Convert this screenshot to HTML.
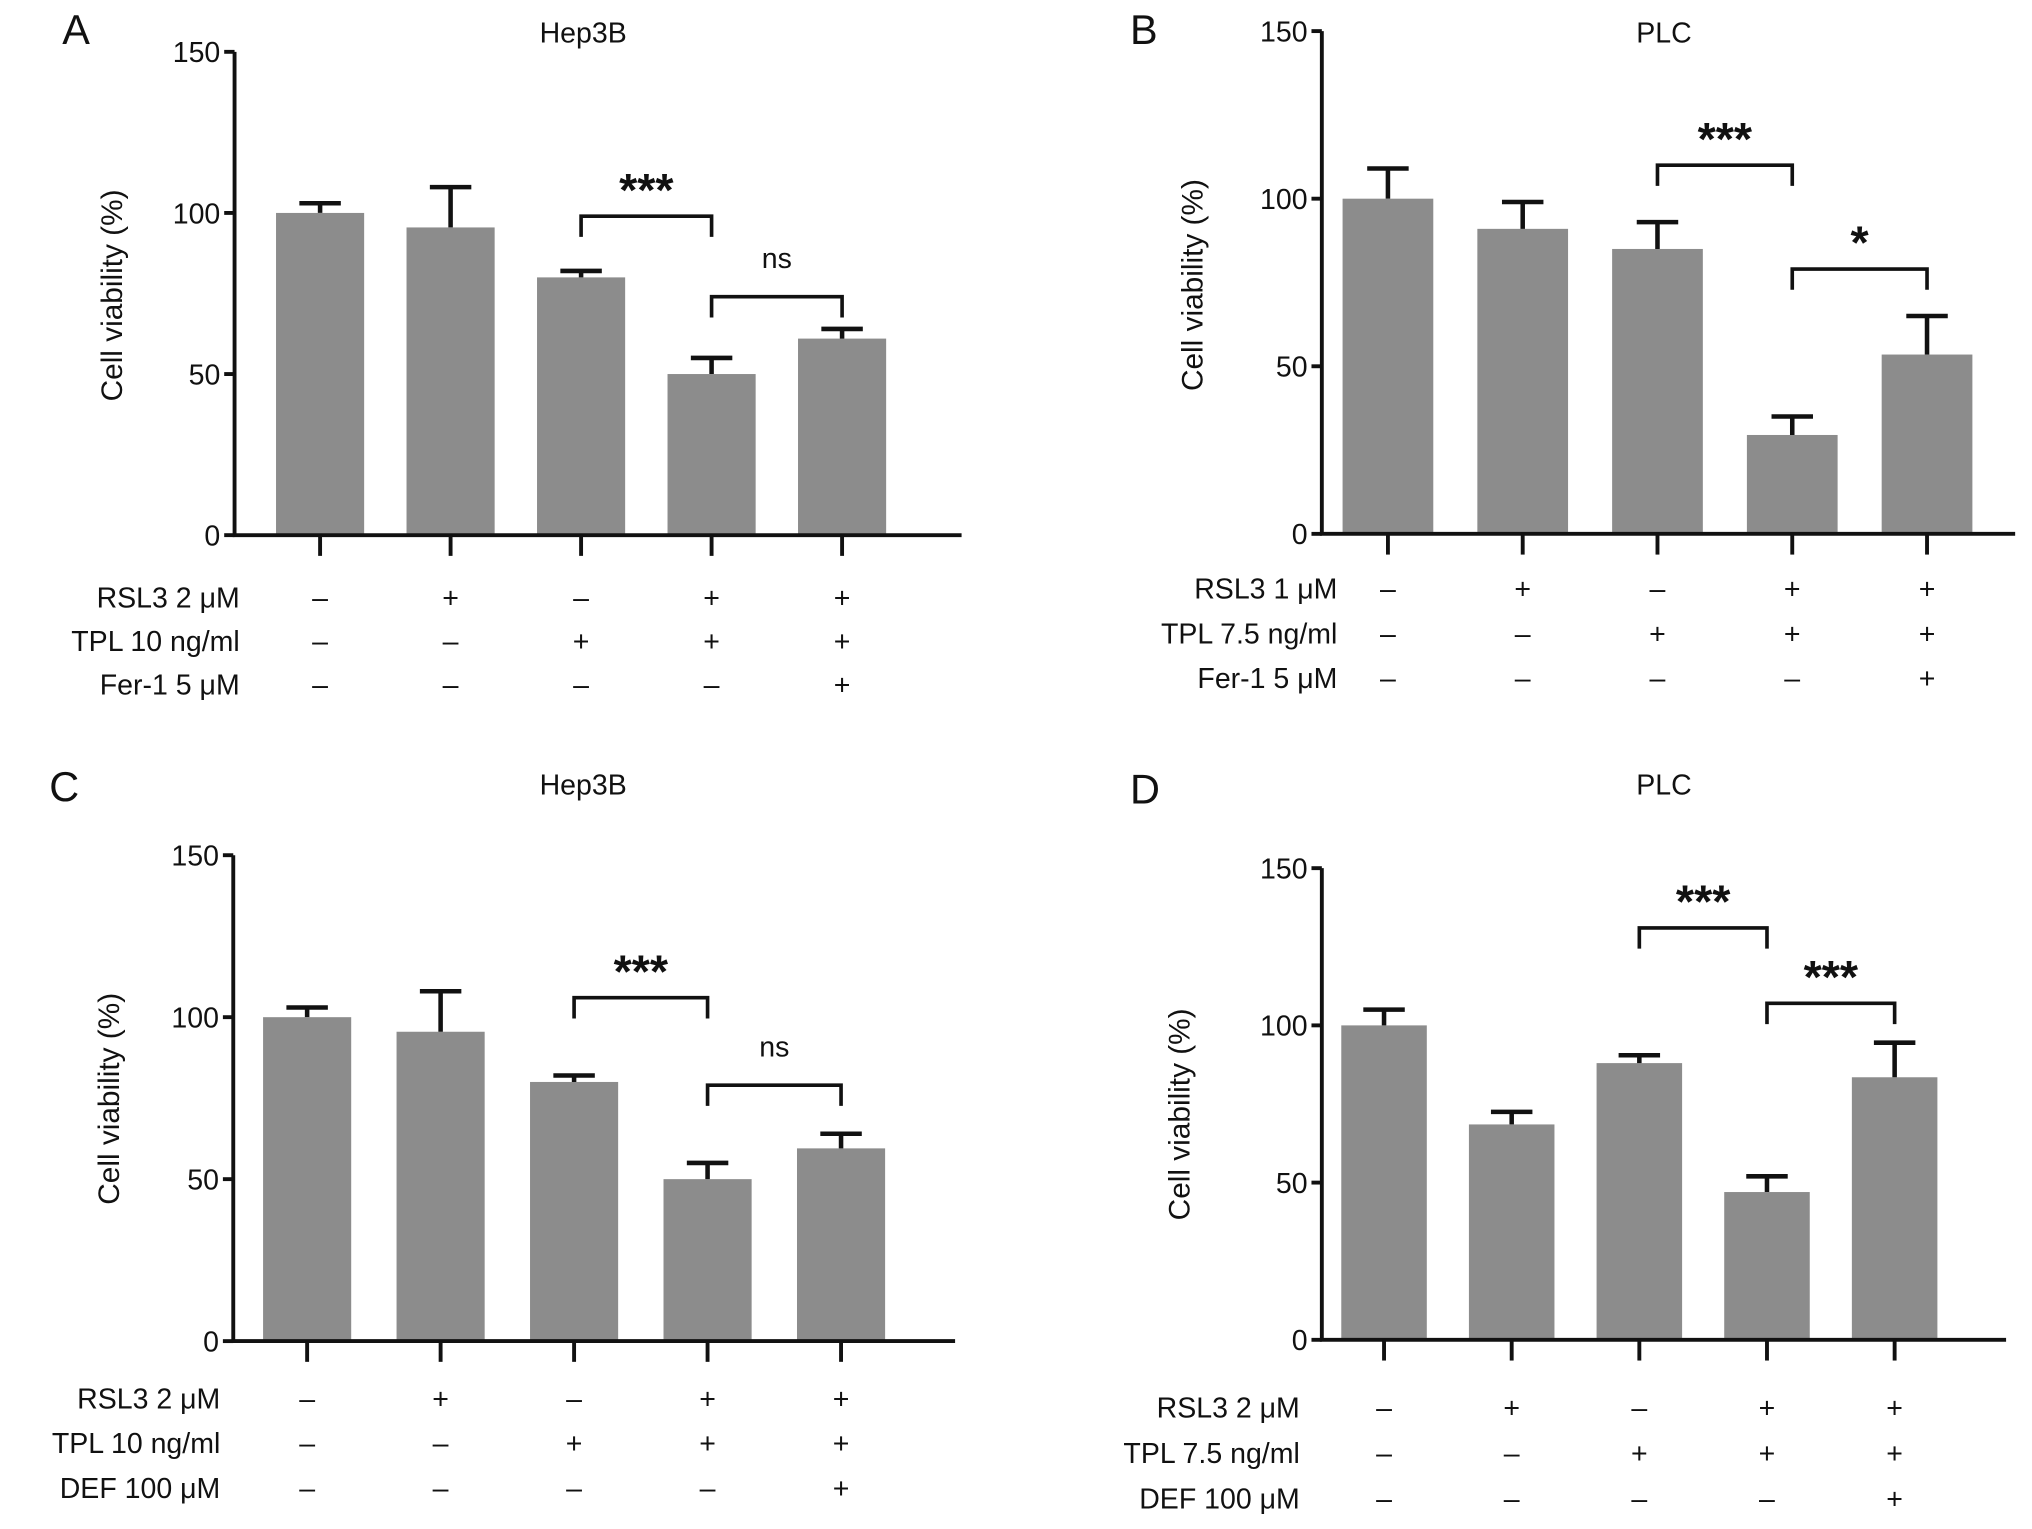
<!DOCTYPE html>
<html><head><meta charset="utf-8"><style>
html,body{margin:0;padding:0;background:#fff;}
svg{display:block;}
text{font-family:"Liberation Sans",Arial,sans-serif;fill:#111;}
</style></head><body>
<svg id="fig" width="2032" height="1529" viewBox="0 0 1568 1180" preserveAspectRatio="none" xmlns="http://www.w3.org/2000/svg"></svg>
<script>
// Panel A data
const catsA = ["g1","g2","g3","g4","g5"];
const valsA = [100, 95.5, 80, 50, 61];
const errA = [103, 108, 82, 55, 64];
// Panel B data
const valsB = [100, 91, 85, 29.5, 53.5];
const errB = [109, 99, 93, 35, 65];
// Panel C data
const valsC = [100, 95.5, 80, 50, 59.5];
const errC = [103, 108, 82, 55, 64];
// Panel D data
const valsD = [100, 68.5, 88, 47, 83.5];
const errD = [105, 72.5, 90.5, 52, 94.5];
const yTicks = [0, 50, 100, 150];
const rowsA = [["RSL3 2 \u03bcM","-+-++"],["TPL 10 ng/ml","--+++"],["Fer-1 5 \u03bcM","----+"]];
const rowsB = [["RSL3 1 \u03bcM","-+-++"],["TPL 7.5 ng/ml","--+++"],["Fer-1 5 \u03bcM","----+"]];
const rowsC = [["RSL3 2 \u03bcM","-+-++"],["TPL 10 ng/ml","--+++"],["DEF 100 \u03bcM","----+"]];
const rowsD = [["RSL3 2 \u03bcM","-+-++"],["TPL 7.5 ng/ml","--+++"],["DEF 100 \u03bcM","----+"]];
const sigA = [[2,3,99,"***"],[3,4,74,"ns"]];
const sigB = [[2,3,110,"***"],[3,4,79,"*"]];
const sigC = [[2,3,106,"***"],[3,4,79,"ns"]];
const sigD = [[2,3,131,"***"],[3,4,107,"***"]];

const NS="http://www.w3.org/2000/svg";
const svg=document.getElementById('fig');
function mk(tag,attrs,parent){const e=document.createElementNS(NS,tag);for(const k in attrs)e.setAttribute(k,attrs[k]);(parent||svg).appendChild(e);return e;}

function panel(cfg){
  const g=mk('g',{});
  
  
  const y=v=>cfg.y0-(cfg.y0-cfg.y150)*v/150;
  const x=i=>cfg.c0+i*cfg.step;
  const L=mk('text',{x:cfg.lx,y:cfg.ly,'font-size':32},g);L.textContent=cfg.letter;
  
  
  const T=mk('text',{x:cfg.tx,y:cfg.ty,'font-size':22,'text-anchor':'middle'},g);T.textContent=cfg.title;
  
  
  cfg.vals.forEach((v,i)=>{
    const r=mk('rect',{x:x(i)-cfg.bw/2,y:y(v),width:cfg.bw,height:y(0)-y(v),fill:'#8c8c8c'},g);
    
    
    const e=cfg.err[i];
    const l=mk('path',{d:`M${x(i)} ${y(v)}V${y(e)}M${x(i)-16} ${y(e)}H${x(i)+16}`,stroke:'#111','stroke-width':3.5,fill:'none'},g);
    
    
  });
  const ax=mk('path',{d:`M${cfg.ax} ${y(150)}V${y(0)}H${cfg.axEnd}`,stroke:'#111','stroke-width':3,fill:'none'},g);
  
  
  yTicks.forEach(t=>{
    mk('path',{d:`M${cfg.ax-8} ${y(t)}H${cfg.ax}`,stroke:'#111','stroke-width':3},g);
    const tt=mk('text',{x:cfg.ax-11,y:y(t)+8,'font-size':22,'text-anchor':'end'},g);tt.textContent=t;
    
    
  });
  cfg.vals.forEach((v,i)=>mk('path',{d:`M${x(i)} ${y(0)}V${y(0)+16}`,stroke:'#111','stroke-width':3},g));
  const yt=mk('text',{x:0,y:0,'font-size':23,'text-anchor':'middle',transform:`translate(${cfg.ytx},${cfg.yty}) rotate(-90)`},g);
  yt.textContent='Cell viability (%)';
  
  
  cfg.rows.forEach((r,j)=>{
    const ry=cfg.r0+j*cfg.rstep;
    const lt=mk('text',{x:cfg.rx,y:ry+8,'font-size':22,'text-anchor':'end'},g);lt.textContent=r[0];
    
    
    [...r[1]].forEach((s,i)=>{
      const m=mk('text',{x:x(i),y:ry+8,'font-size':22,'text-anchor':'middle'},g);m.textContent=s==='+'?'+':'\u2013';
      
      
    });
  });
  cfg.sig.forEach(s=>{
    const x1=x(s[0]),x2=x(s[1]),by=y(s[2]);
    const b=mk('path',{d:`M${x1} ${by+16}V${by}H${x2}V${by+16}`,stroke:'#111','stroke-width':2.8,fill:'none'},g);
    
    
    const isNs=s[3]==='ns';
    const st=mk('text',{x:(x1+x2)/2,y:isNs?by-22:by-8,'font-size':isNs?22:36,'font-weight':isNs?'normal':'bold','text-anchor':'middle'},g);
    st.textContent=s[3];
    
    
  });
}

panel({letter:'A',lx:48,ly:34,title:'Hep3B',tx:450,ty:33,vals:valsA,err:errA,y0:413,y150:40,ax:181,axEnd:742,c0:247,step:100.7,bw:68,ytx:94,yty:228,rows:rowsA,r0:461,rstep:33.5,rx:185,sig:sigA});
panel({letter:'B',lx:872,ly:34,title:'PLC',tx:1284,ty:33,vals:valsB,err:errB,y0:412,y150:24,ax:1020,axEnd:1555,c0:1071,step:104,bw:70,ytx:928,yty:220,rows:rowsB,r0:454,rstep:34.5,rx:1032,sig:sigB});
panel({letter:'C',lx:38,ly:618,title:'Hep3B',tx:450,ty:613,vals:valsC,err:errC,y0:1035,y150:660,ax:180,axEnd:737,c0:237,step:103,bw:68,ytx:92,yty:848,rows:rowsC,r0:1079,rstep:34.5,rx:170,sig:sigC});
panel({letter:'D',lx:872,ly:620,title:'PLC',tx:1284,ty:613,vals:valsD,err:errD,y0:1034,y150:670,ax:1020,axEnd:1548,c0:1068,step:98.5,bw:66,ytx:918,yty:860,rows:rowsD,r0:1086,rstep:35,rx:1003,sig:sigD});
</script>
</body></html>
